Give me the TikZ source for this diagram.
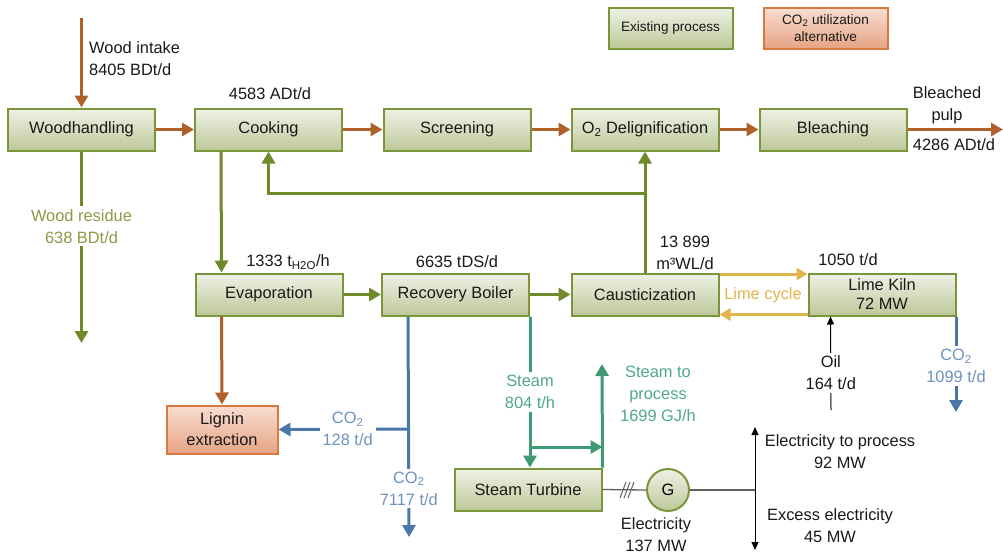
\documentclass[tikz,border=0pt]{standalone}
\usepackage{fontspec}
\setmainfont{Liberation Sans}
\usetikzlibrary{arrows.meta,calc}
\definecolor{boxtop}{HTML}{EFF1E6}
\definecolor{boxbot}{HTML}{BEC899}
\definecolor{boxline}{HTML}{7A963A}
\definecolor{alttop}{HTML}{F9DED2}
\definecolor{altbot}{HTML}{E6A484}
\definecolor{altline}{HTML}{D9793F}
\definecolor{brn}{HTML}{B0602A}
\definecolor{olv}{HTML}{6E8A2A}
\definecolor{olvtxt}{HTML}{8A9C46}
\definecolor{blu}{HTML}{4A76A8}
\definecolor{blutxt}{HTML}{6E93BE}
\definecolor{tel}{HTML}{3E9A72}
\definecolor{teltxt}{HTML}{4FA885}
\definecolor{gld}{HTML}{E2B44C}
\definecolor{gry}{HTML}{606060}
\begin{document}
\begin{tikzpicture}[x=1pt,y=-1pt,
  font=\fontsize{16.4}{22}\selectfont,
  proc/.style={draw=boxline, line width=2pt, top color=boxtop, bottom color=boxbot,
    minimum width=147pt, minimum height=42pt, inner sep=0pt, align=center, text=black!90},
  altproc/.style={draw=altline, line width=2pt, top color=alttop, bottom color=altbot,
    minimum width=111pt, minimum height=48pt, inner sep=0pt, align=center, text=black!90},
  tipp/.style={-{Triangle[width=13pt,length=12pt]}},
  flowbrn/.style={tipp, draw=brn, line width=3pt},
  flowolv/.style={tipp, draw=olv, line width=3pt},
  flowblu/.style={tipp, draw=blu, line width=3pt},
  flowtel/.style={tipp, draw=tel, line width=3pt},
  flowgld/.style={-{Triangle[width=12pt,length=11pt]}, draw=gld, line width=3pt},
  lbl/.style={align=center, inner sep=1pt, text=black!90},
  gap/.style={lbl, fill=white, inner sep=3pt}]
\useasboundingbox (0,0) rectangle (1003,555);

% legend
\node[proc, minimum width=124pt, minimum height=41pt, font=\fontsize{13.6}{17}\selectfont] (leg1) at (670.5,28) {Existing process};
\node[altproc, minimum width=124pt, minimum height=41pt, font=\fontsize{13.6}{17}\selectfont] (leg2) at (825.5,28) {CO\textsubscript{2} utilization\\alternative};

% process boxes
\node[proc] (wh) at (81.5,129.5) {Woodhandling};
\node[proc] (cook) at (268.5,129.5) {Cooking};
\node[proc] (scr) at (457,129.5) {Screening};
\node[proc] (o2) at (645,129.5) {O\textsubscript{2} Delignification};
\node[proc] (bl) at (833,129.5) {Bleaching};
\node[proc] (evap) at (269,294.5) {Evaporation};
\node[proc] (rb) at (455.5,294.5) {Recovery Boiler};
\node[proc] (caus) at (645,294.5) {Causticization};
\node[proc, font=\fontsize{16.4}{19}\selectfont] (kiln) at (882,294.5) {Lime Kiln\\72 MW};
\node[altproc, font=\fontsize{16.4}{21}\selectfont] (lig) at (222,429.5) {Lignin\\extraction};
\node[proc] (st) at (528,489.5) {Steam Turbine};
\node[circle, draw=boxline, line width=2pt, top color=boxtop, bottom color=boxbot, minimum size=42pt, inner sep=0pt] (gen) at (668,490) {G};

% wood intake
\coordinate (wi) at (81.5,18);
\draw[flowbrn] (wi) -- (wh.north);
\node[lbl, anchor=west, align=left] (wil) at (88,59) {Wood intake\\8405 BDt/d};

% main pulp line
\draw[flowbrn] (wh) -- (cook);
\draw[flowbrn] (cook) -- (scr);
\draw[flowbrn] (scr) -- (o2);
\draw[flowbrn] (o2) -- (bl);
\coordinate (pulpend) at (1003,129.5);
\draw[flowbrn] (bl.east) -- (pulpend);
\node[lbl] (bpl) at (947,105) {Bleached\\pulp};
\node[lbl] (bpa) at (954,145) {4286 ADt/d};
\node[lbl] (cka) at (270,94) {4583 ADt/d};

% wood residue
\coordinate (wr) at (81.5,343);
\draw[flowolv] (wh.south) -- (wr) node[gap, pos=0.39, text=olvtxt] (wrl) {Wood residue\\638 BDt/d};

% cooking -> evaporation
\draw[flowolv] ([xshift=27pt]cook.south west) -- ([xshift=27pt]evap.north west);
\node[lbl] (evl) at (288,262) {1333 t\textsubscript{H2O}/h};
\node[lbl] (rbl) at (457,262) {6635 tDS/d};

% white liquor return loop
\coordinate (j) at (645,193);
\draw[flowolv] (caus.north) -- (o2.south);
\draw[flowolv] (j) -| (cook.south);
\node[lbl] (wll) at (685,253) {13 899\\m³WL/d};

% lower line
\draw[flowolv] (evap) -- (rb);
\draw[flowolv] (rb) -- (caus);

% lime cycle
\draw[flowgld] ($(caus.north east)+(0,1.5)$) -- ($(kiln.north west)+(0,1.5)$);
\draw[flowgld] ($(kiln.south west)+(0,-2)$) -- ($(caus.south east)+(0,-2)$);
\node[lbl, text=gld] (lcl) at (763,295) {Lime cycle};
\node[lbl] (kll) at (848,260) {1050 t/d};

% oil
\coordinate (oil) at (831,410);
\draw[-{Triangle[width=7pt,length=8pt]}, line width=1pt, black] (oil) -- ($(kiln.south west)+(23,0)$) node[gap, pos=0.4] (oill) {Oil\\164 t/d};

% kiln CO2
\coordinate (kco) at (956,412);
\draw[flowblu] ($(kiln.south east)+(-0.5,0)$) -- (kco) node[gap, pos=0.52, text=blutxt] (kcol) {CO\textsubscript{2}\\1099 t/d};

% evaporation -> lignin
\draw[flowbrn] ([xshift=27pt]evap.south west) -- (lig.north);

% recovery boiler CO2
\coordinate (rbco) at (409,537);
\coordinate (rbj) at (409,429);
\draw[flowblu] ([xshift=27pt]rb.south west) -- (rbco) node[gap, pos=0.78, text=blutxt] (rbcol) {CO\textsubscript{2}\\7117 t/d};
\draw[flowblu] (rbj) -- (lig.east) node[gap, pos=0.47, text=blutxt] (ligcol) {CO\textsubscript{2}\\128 t/d};

% steam
\draw[flowtel] (rb.south east) -- (rb.south east |- st.north) node[gap, pos=0.5, text=teltxt] (stml) {Steam\\804 t/h};
\coordinate (sj) at (529,447);
\draw[flowtel] (sj) -- (sj -| st.north east);
\coordinate (stp) at (602,364);
\draw[flowtel] (st.north east) -- (stp);
\node[lbl, text=teltxt] (stpl) at (658,394) {Steam to\\process\\1699 GJ/h};

% electricity
\draw[gry, line width=1.3pt] (st.east) -- (gen.west);
\foreach \dx in {-4,0,4} {
  \draw[gry, line width=1pt] ($(627+\dx,490)+(-3,8)$) -- ++(6,-16);
}
\coordinate (ej) at (755,490);
\draw[gry, line width=1.3pt] (gen.east) -- (ej);
\coordinate (etop) at (755,427);
\coordinate (ebot) at (755,550);
\draw[{Triangle[width=7pt,length=8pt]}-{Triangle[width=7pt,length=8pt]}, line width=1pt] (etop) -- (ebot);
\node[lbl] (epl) at (840,452) {Electricity to process\\92 MW};
\node[lbl] (eel) at (830,526) {Excess electricity\\45 MW};
\node[lbl] (gl) at (656,535) {Electricity\\137 MW};
\end{tikzpicture}
\end{document}
